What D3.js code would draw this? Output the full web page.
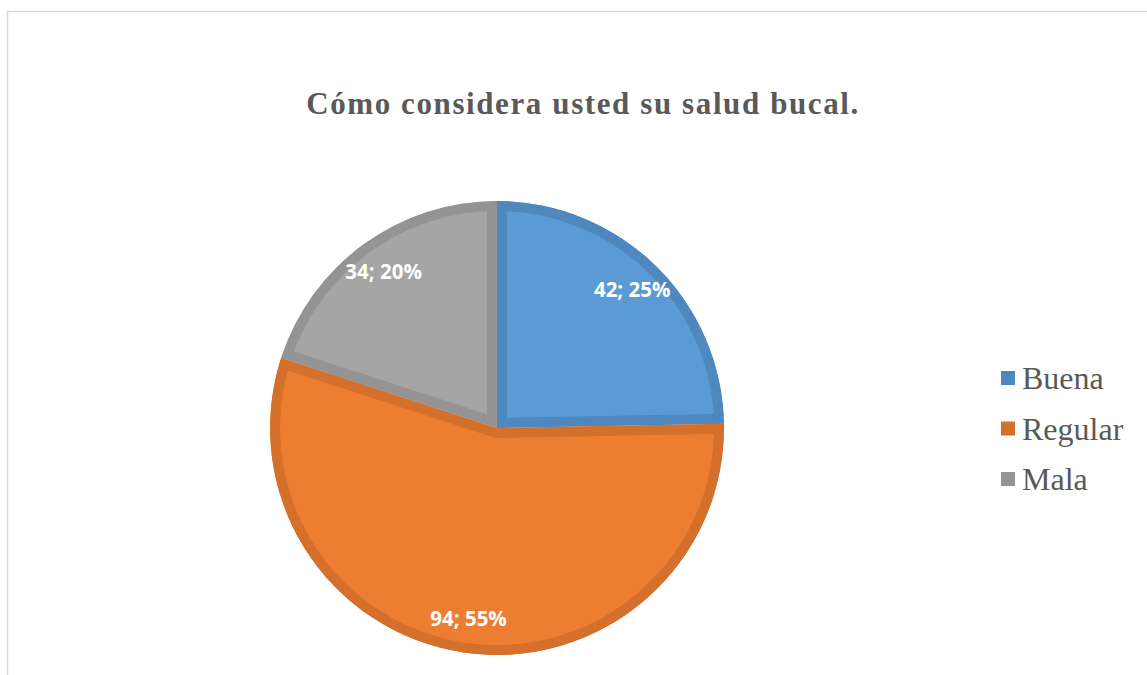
<!DOCTYPE html>
<html>
<head>
<meta charset="utf-8">
<script src="https://cdn.jsdelivr.net/npm/d3@7"></script>
<style>
  html, body { margin: 0; padding: 0; background: #fff; overflow: hidden; }
</style>
</head>
<body>
<div id="chart"></div>
<script>
const categories = ["Buena", "Regular", "Mala"];
const values = [42, 94, 34];
const percents = ["25%", "55%", "20%"];
const fills = ["#5B9BD5", "#ED7D31", "#A5A5A5"];
const edges = ["#4F88BF", "#D46F2C", "#949494"];

const width = 1147, height = 675;
const cx = 497, cy = 428, r = 227;

const svg = d3.select("#chart").append("svg")
  .attr("width", width)
  .attr("height", height);

// chart area border (light grey)
svg.append("rect")
  .attr("x", 7.5).attr("y", 11.5)
  .attr("width", 1200).attr("height", 700)
  .attr("fill", "none")
  .attr("stroke", "#d9d9d9")
  .attr("stroke-width", 1.5);

// title
svg.append("text")
  .attr("x", 583).attr("y", 114)
  .attr("text-anchor", "middle")
  .style("font-family", "'Liberation Serif', 'Times New Roman', serif")
  .style("font-weight", "bold")
  .style("font-size", "31px")
  .style("letter-spacing", "1.6px")
  .style("fill", "#595959")
  .text("Cómo considera usted su salud bucal.");

const pie = d3.pie().sort(null).value(d => d)(values);
const arc = d3.arc().innerRadius(0).outerRadius(r);
const labelArc = d3.arc().innerRadius(r * 0.85).outerRadius(r * 0.85);

const g = svg.append("g").attr("transform", `translate(${cx},${cy})`);
const defs = svg.append("defs");

pie.forEach((p, i) => {
  defs.append("clipPath").attr("id", "clip" + i)
    .append("path").attr("d", arc(p));
  g.append("path")
    .attr("d", arc(p))
    .attr("fill", fills[i])
    .attr("stroke", edges[i])
    .attr("stroke-width", 20)
    .attr("clip-path", `url(#clip${i})`);
});

g.selectAll("text.lbl")
  .data(pie)
  .enter()
  .append("text")
  .attr("class", "lbl")
  .attr("transform", d => `translate(${labelArc.centroid(d)})`)
  .attr("text-anchor", "middle")
  .attr("dy", "0.35em")
  .style("font-family", "'Open Sans', 'Noto Sans', sans-serif")
  .style("font-weight", "bold")
  .style("font-size", "20.5px")
  .style("fill", "#fff")
  .text((d, i) => `${values[i]}; ${percents[i]}`);

// legend
const legend = svg.append("g").attr("transform", "translate(1001,378)");
categories.forEach((c, i) => {
  const row = legend.append("g").attr("transform", `translate(0,${i * 50.5})`);
  row.append("rect")
    .attr("x", 0).attr("y", -7)
    .attr("width", 14).attr("height", 14)
    .attr("fill", edges[i]);
  row.append("text")
    .attr("x", 21).attr("y", 11)
    .style("font-family", "'Liberation Serif', 'Times New Roman', serif")
    .style("font-size", "32px")
    .style("fill", "#595959")
    .text(c);
});
</script>
</body>
</html>
